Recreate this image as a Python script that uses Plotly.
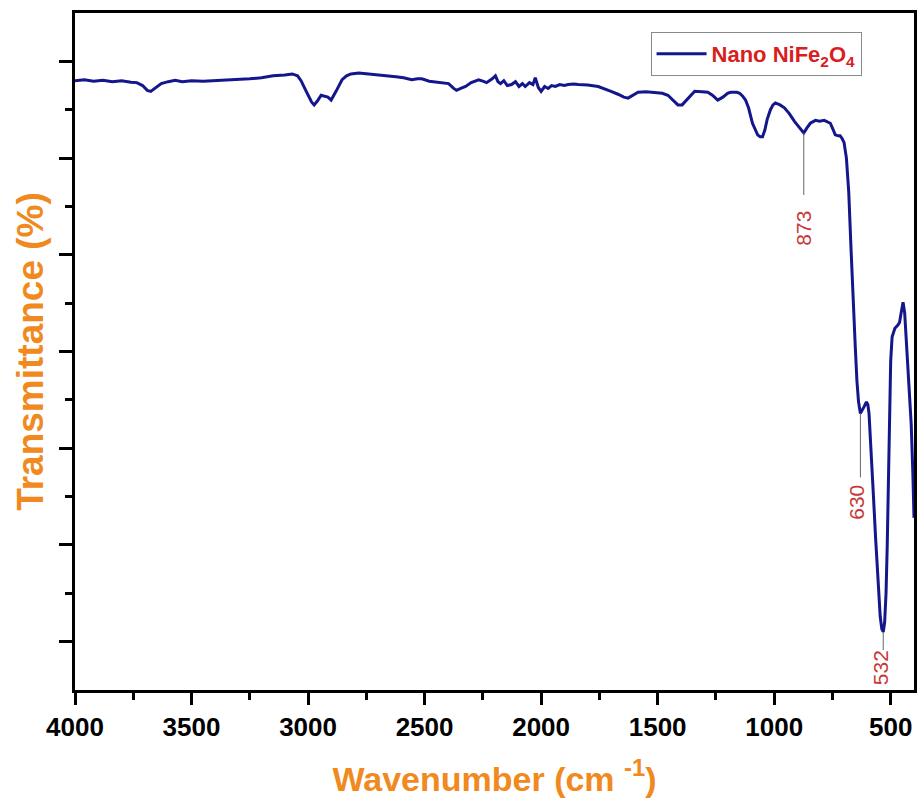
import numpy as np
import plotly.graph_objects as go

# ---- data (FTIR spectrum, Nano NiFe2O4) ----
wavenumber = [
    4000, 3960, 3920, 3880, 3840, 3800, 3760, 3735, 3710, 3690, 3675, 3655, 3630, 3600, 3570, 3540,
    3500, 3450, 3400, 3350, 3300, 3250, 3200, 3150, 3100, 3068, 3045, 3030, 3010, 2995, 2985, 2974,
    2960, 2944, 2930, 2915, 2901, 2890, 2880, 2865, 2854, 2835, 2816, 2782, 2740, 2696, 2660, 2623,
    2590, 2555, 2530, 2512, 2480, 2440, 2410, 2397, 2375, 2363, 2345, 2324, 2300, 2268, 2250, 2234,
    2210, 2196, 2185, 2174, 2160, 2145, 2127, 2110, 2095, 2080, 2068, 2050, 2035, 2025, 2012, 2000,
    1985, 1970, 1955, 1939, 1920, 1900, 1884, 1860, 1841, 1800, 1755, 1730, 1700, 1670, 1645, 1627,
    1605, 1584, 1550, 1512, 1480, 1456, 1435, 1413, 1395, 1375, 1355, 1341, 1310, 1285, 1265, 1242,
    1220, 1200, 1187, 1160, 1148, 1135, 1123, 1110, 1093, 1080, 1071, 1060, 1050, 1040, 1030, 1016,
    1005, 995, 975, 956, 935, 913, 895, 873, 860, 845, 823, 805, 785, 770, 759, 748,
    738, 725, 717, 708, 700, 690, 680, 670, 665, 658, 652, 645, 638, 630, 622, 614,
    604, 598, 593, 585, 575, 565, 558, 550, 545, 538, 532, 526, 520, 515, 510, 505,
    500, 494, 482, 470, 462, 455, 447, 440, 432, 422, 412, 405, 400,
]
transmittance = [
    78.0, 78.1, 77.95, 78.05, 77.9, 78.0, 77.85, 77.8, 77.5, 77.0, 76.9, 77.3, 77.7, 77.9, 78.05, 77.9,
    78.0, 77.95, 78.0, 78.1, 78.1, 78.2, 78.3, 78.5, 78.6, 78.7, 78.5, 78.0, 77.0, 76.2, 75.8, 75.5,
    75.9, 76.5, 76.4, 76.3, 76.0, 76.4, 76.9, 77.6, 78.1, 78.5, 78.7, 78.8, 78.7, 78.6, 78.55, 78.4,
    78.3, 78.1, 78.2, 78.2, 77.95, 77.8, 77.75, 77.7, 77.2, 77.0, 77.2, 77.4, 77.8, 78.1, 77.95, 77.8,
    78.2, 78.5, 77.9, 77.7, 78.0, 77.5, 77.6, 77.9, 77.4, 77.7, 77.4, 77.8, 77.6, 78.3, 77.3, 76.9,
    77.4, 77.2, 77.5, 77.4, 77.6, 77.5, 77.6, 77.65, 77.6, 77.55, 77.4, 77.2, 76.9, 76.6, 76.3, 76.2,
    76.5, 76.8, 76.85, 76.8, 76.7, 76.5, 76.0, 75.5, 75.5, 76.0, 76.6, 76.9, 76.85, 76.8, 76.5, 76.0,
    76.3, 76.7, 76.8, 76.8, 76.7, 76.4, 76.0, 75.2, 73.6, 72.8, 72.4, 72.2, 72.2, 72.9, 74.0, 75.0,
    75.5, 75.7, 75.5, 75.2, 74.6, 73.8, 73.2, 72.6, 73.1, 73.6, 73.9, 73.8, 73.9, 73.7, 73.6, 73.0,
    72.4, 72.3, 72.3, 72.0, 71.6, 70.0, 66.5, 60.5, 57.4, 53.5, 50.5, 47.0, 44.8, 43.6, 43.9, 44.3,
    44.8, 44.5, 43.6, 40.5, 35.5, 30.8, 28.1, 24.5, 22.6, 21.3, 21.0, 22.0, 25.0, 29.8, 36.0, 43.5,
    49.0, 51.5, 52.4, 52.7, 53.0, 54.0, 55.1, 54.0, 50.5, 47.1, 42.5, 37.5, 32.8,
]
series_name = "Nano NiFe<sub>2</sub>O<sub>4</sub>"

peak_positions = [873, 630, 532]
peak_labels = ["873", "630", "532"]

x_tickvals = [4000, 3500, 3000, 2500, 2000, 1500, 1000, 500]
x_minor_tickvals = [3750, 3250, 2750, 2250, 1750, 1250, 750]
y_tickvals = [20, 30, 40, 50, 60, 70, 80]
y_minor_tickvals = [25, 35, 45, 55, 65, 75]

# ---- styling ----
LINE_COLOR = "#14168c"
ORANGE = "#f08a1e"
LABEL_RED = "#c83838"
LEGEND_RED = "#d81e1e"
FONT = "Liberation Sans, Arial, sans-serif"

fig = go.Figure()
fig.add_trace(go.Scatter(
    x=wavenumber, y=transmittance, mode="lines",
    line=dict(color=LINE_COLOR, width=3),
    name="<b>" + series_name + "</b>",
))

# peak markers: a thin grey line below each peak plus a rotated label
wn_arr = np.array(wavenumber)[::-1]
tr_arr = np.array(transmittance)[::-1]
peak_vals = np.interp(peak_positions, wn_arr, tr_arr)
line_len = [62, 64, 18]      # pixel length of the guide lines
label_off = [95, 89, 36]     # pixel offset of label centre below the peak
label_xs = [0, -4, -2]
for p, v, txt, ll, lo, xs in zip(peak_positions, peak_vals, peak_labels, line_len, label_off, label_xs):
    fig.add_shape(type="line", xref="x", yref="y", x0=p, x1=p,
                  ysizemode="pixel", yanchor=float(v), y0=0, y1=-ll,
                  line=dict(color="#666666", width=1))
    fig.add_annotation(x=p, y=float(v), xref="x", yref="y", text=txt, showarrow=False,
                       textangle=-90, yshift=-lo, xshift=xs,
                       font=dict(family=FONT, size=21, color=LABEL_RED))

axis_common = dict(
    showgrid=False, zeroline=False, showline=True, linecolor="black", linewidth=3,
    mirror=True, ticks="outside", tickcolor="black", tickwidth=3,
)

fig.update_layout(
    width=920, height=806,
    margin=dict(l=75, r=3, t=13, b=116),
    paper_bgcolor="white", plot_bgcolor="white",
    font=dict(family=FONT, color="black"),
    showlegend=True,
    legend=dict(
        x=0.686, y=0.972, xanchor="left", yanchor="top",
        bgcolor="white", bordercolor="#8a8a8a", borderwidth=1,
        itemwidth=50, tracegroupgap=0,
        font=dict(family=FONT, size=22, color=LEGEND_RED),
    ),
    xaxis=dict(
        **axis_common,
        range=[4000, 400], tickmode="array", tickvals=x_tickvals,
        ticktext=[str(v) for v in x_tickvals], ticklen=12,
        tickfont=dict(family=FONT, size=26, color="black", weight="bold"),
        minor=dict(tickmode="array", tickvals=x_minor_tickvals, ticks="outside",
                   ticklen=7, tickwidth=2.5, tickcolor="black"),
        title=dict(text="<b>Wavenumber (cm <sup>-1</sup>)</b>",
                   font=dict(family=FONT, size=34, color=ORANGE), standoff=26),
    ),
    yaxis=dict(
        **axis_common,
        range=[15, 85], tickmode="array", tickvals=y_tickvals, showticklabels=False,
        ticklen=13,
        minor=dict(tickmode="array", tickvals=y_minor_tickvals, ticks="outside",
                   ticklen=7, tickwidth=2.5, tickcolor="black"),
        title=dict(text="<b>Transmittance (%)</b>",
                   font=dict(family=FONT, size=37, color=ORANGE), standoff=5),
    ),
)

fig.write_html("out.html")
